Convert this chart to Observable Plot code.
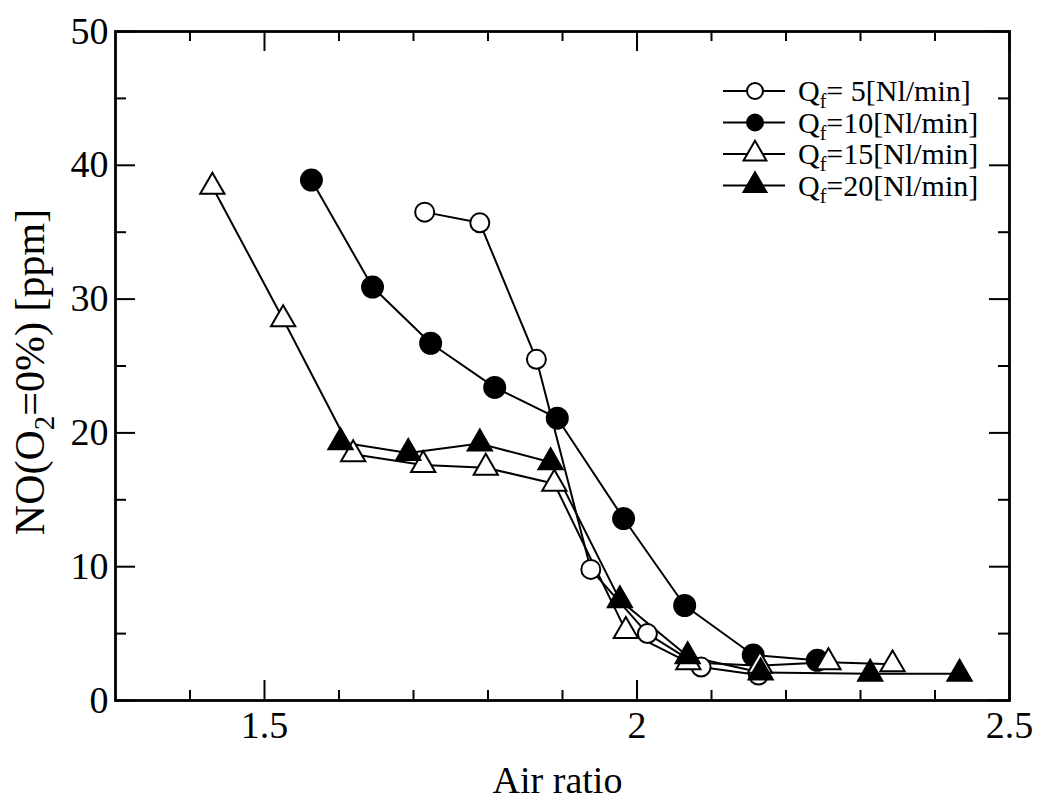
<!DOCTYPE html>
<html><head><meta charset="utf-8">
<script src="https://cdn.jsdelivr.net/npm/d3@7"></script>
<script src="https://cdn.jsdelivr.net/npm/@observablehq/plot@0.6"></script>
<style>body{margin:0;background:#fff}#chart{width:1040px;height:809px}</style>
</head><body><div id="chart"></div>
<script>
// ---- data ----
const airRatio5  = [1.715, 1.789, 1.865, 1.938, 2.014, 2.086, 2.163];
const no5        = [36.5, 35.7, 25.5, 9.8, 5.0, 2.5, 1.9];
const airRatio10 = [1.563, 1.645, 1.723, 1.809, 1.893, 1.982, 2.064, 2.156, 2.242];
const no10       = [38.9, 30.9, 26.7, 23.4, 21.1, 13.6, 7.1, 3.4, 3.0];
const airRatio15 = [1.430, 1.525, 1.619, 1.713, 1.797, 1.889, 1.985, 2.069, 2.165, 2.257, 2.343];
const no15       = [38.4, 28.5, 18.4, 17.6, 17.4, 16.2, 5.2, 2.85, 2.6, 2.85, 2.7];
const airRatio20 = [1.602, 1.693, 1.789, 1.884, 1.977, 2.068, 2.166, 2.313, 2.433];
const no20       = [19.3, 18.5, 19.2, 17.8, 7.5, 3.3, 2.1, 2.0, 2.0];

const legendMain = ["Q", "Q", "Q", "Q"];
const legendSub  = ["f", "f", "f", "f"];
const legendRest = ["= 5[Nl/min]", "=10[Nl/min]", "=15[Nl/min]", "=20[Nl/min]"];

const xMajor = [1.5, 2, 2.5];
const xMajorLabels = ["1.5", "2", "2.5"];
const xMinor = [1.4, 1.6, 1.7, 1.8, 1.9, 2.1, 2.2, 2.3, 2.4];
const yMajor = [0, 10, 20, 30, 40, 50];
const yMajorLabels = ["0", "10", "20", "30", "40", "50"];
const yMinor = [5, 15, 25, 35, 45];

const xTitle = "Air ratio";
const yTitleParts = ["NO(O", "2", "=0%) [ppm]"];

// ---- layout ----
const W = 1040, H = 809;
const mL = 115, mR = 31, mT = 31, mB = 109;
const pw = W - mL - mR, ph = H - mT - mB;
const FONT = "Liberation Serif, Times New Roman, serif";

const toRows = (xs, ys) => xs.map((x, i) => ({x, y: ys[i]}));
const s5 = toRows(airRatio5, no5), s10 = toRows(airRatio10, no10),
      s15 = toRows(airRatio15, no15), s20 = toRows(airRatio20, no20);

const series = [
  {data: s5,  symbol: "circle",   fill: "white", r: 9.5},
  {data: s10, symbol: "circle",   fill: "black", r: 10.5},
  {data: s15, symbol: "triangle", fill: "white", r: 9},
  {data: s20, symbol: "triangle", fill: "black", r: 9}
];

const marks = [
  Plot.tickX(xMajor, {x: d => d, insetTop: ph - 20, strokeWidth: 2}),
  Plot.tickX(xMajor, {x: d => d, insetBottom: ph - 20, strokeWidth: 2}),
  Plot.tickX(xMinor, {x: d => d, insetTop: ph - 10, strokeWidth: 2}),
  Plot.tickX(xMinor, {x: d => d, insetBottom: ph - 10, strokeWidth: 2}),
  Plot.tickY(yMajor, {y: d => d, insetRight: pw - 20, strokeWidth: 2}),
  Plot.tickY(yMajor, {y: d => d, insetLeft: pw - 20, strokeWidth: 2}),
  Plot.tickY(yMinor, {y: d => d, insetRight: pw - 11, strokeWidth: 2}),
  Plot.tickY(yMinor, {y: d => d, insetLeft: pw - 11, strokeWidth: 2}),
  Plot.axisX({ticks: xMajor, tickSize: 0, tickPadding: 11, label: null,
    tickFormat: d => xMajorLabels[xMajor.indexOf(d)], fontSize: 38, fontFamily: FONT, fill: "black"}),
  Plot.axisY({ticks: yMajor, tickSize: 0, tickPadding: 7, label: null,
    tickFormat: d => yMajorLabels[yMajor.indexOf(d)], fontSize: 38, fontFamily: FONT, fill: "black"}),
  Plot.text([xTitle], {frameAnchor: "bottom", textAnchor: "middle", lineAnchor: "middle",
    dy: 80, dx: -5, fontSize: 38, fontFamily: FONT, fill: "black"}),
  Plot.text([yTitleParts.join("")], {frameAnchor: "left", textAnchor: "middle", lineAnchor: "middle",
    dx: -85, dy: 6, rotate: -90, fontSize: 42, fontFamily: FONT, fill: "black"})
];
for (const s of series) {
  marks.push(Plot.line(s.data, {x: "x", y: "y", stroke: "black", strokeWidth: 2}));
}
for (const s of series) {
  marks.push(Plot.dot(s.data, {x: "x", y: "y", symbol: s.symbol, r: s.r, fill: s.fill, stroke: "black", strokeWidth: 2}));
}
marks.push(Plot.frame({stroke: "black", strokeWidth: 2.8}));

const plot = Plot.plot({
  width: W, height: H,
  marginLeft: mL, marginRight: mR, marginTop: mT, marginBottom: mB,
  style: {background: "white", color: "black", overflow: "visible"},
  x: {domain: [1.3, 2.5], axis: null},
  y: {domain: [0, 50], axis: null},
  marks
});
document.getElementById("chart").appendChild(plot);

const svg = d3.select(plot);
svg.attr("font-family", FONT).style("font-family", FONT);

// subscript in y title
svg.selectAll("text").each(function() {
  if (this.textContent === yTitleParts.join("")) {
    const t = d3.select(this);
    t.text(null);
    t.append("tspan").text(yTitleParts[0]);
    t.append("tspan").attr("dy", 10).attr("font-size", 29).text(yTitleParts[1]);
    t.append("tspan").attr("dy", -10).text(yTitleParts[2]);
  }
});

// legend
const lx0 = 723, lx1 = 785, lmx = 755, ltx = 798, ly0 = 91, lstep = 31.5;
const lg = svg.append("g").attr("font-family", FONT).attr("font-size", 30)
  .attr("fill", "black").attr("text-anchor", "start");
series.forEach((s, i) => {
  const y = ly0 + i * lstep;
  lg.append("line").attr("x1", lx0).attr("x2", lx1).attr("y1", y).attr("y2", y)
    .attr("stroke", "black").attr("stroke-width", 2);
  const sym = s.symbol === "circle" ? d3.symbolCircle : d3.symbolTriangle;
  const rr = s.symbol === "circle" ? 8 : 8.5;
  lg.append("path").attr("d", d3.symbol(sym, rr * rr * Math.PI)())
    .attr("transform", `translate(${lmx},${y})`)
    .attr("fill", s.fill).attr("stroke", "black").attr("stroke-width", 2);
  const t = lg.append("text").attr("x", ltx).attr("y", y + 10).attr("text-anchor", "start");
  t.append("tspan").text(legendMain[i]);
  t.append("tspan").attr("dy", 7).attr("font-size", 20).text(legendSub[i]);
  t.append("tspan").attr("dy", -7).text(legendRest[i]);
});
</script>
</body></html>
